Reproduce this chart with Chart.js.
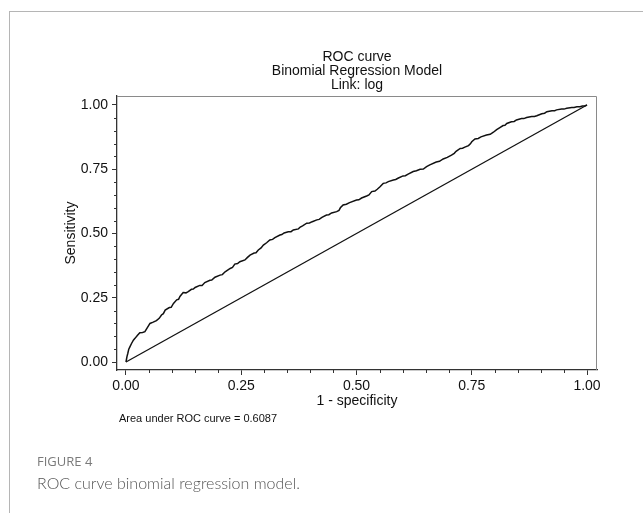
<!DOCTYPE html>
<html>
<head>
<meta charset="utf-8">
<script src="https://cdn.jsdelivr.net/npm/chart.js@4.4.1/dist/chart.umd.min.js"></script>
<style>
  html, body { margin: 0; padding: 0; background: #fff; }
  body { width: 643px; height: 513px; position: relative; overflow: hidden; }
  #frame { position: absolute; left: 9px; top: 11px; width: 700px; height: 600px;
           border-left: 1px solid #b5b5b5; border-top: 1px solid #b5b5b5; }
  #wrap { position: absolute; left: 0; top: 0; width: 643px; height: 513px; }
  #fig { position: absolute; left: 37px; top: 452px; font-family: "Open Sans", "Noto Sans", sans-serif;
         font-size: 13px; font-weight: 500; color: #7a7a7a; }
  #cap { position: absolute; left: 37px; top: 473px; font-family: Lato, "Open Sans", sans-serif;
         font-size: 16px; font-weight: 300; color: #555; }
</style>
</head>
<body>
<div id="frame"></div>
<div id="wrap"><canvas id="c" width="643" height="513"></canvas></div>
<div id="fig">FIGURE 4</div>
<div id="cap">ROC curve binomial regression model.</div>
<script>
// ---- data ----
const fpr = [0, 0.002, 0.004, 0.006, 0.0087, 0.012, 0.016, 0.0195, 0.025, 0.030, 0.036, 0.041, 0.046, 0.052,
  0.059, 0.066, 0.072, 0.077, 0.081, 0.085, 0.094, 0.098, 0.103, 0.110, 0.114, 0.117, 0.124, 0.130, 0.135,
  0.142, 0.146, 0.150, 0.160, 0.165, 0.171, 0.182, 0.186, 0.193, 0.204, 0.209, 0.215, 0.226, 0.231, 0.236,
  0.242, 0.247, 0.258, 0.263, 0.269, 0.278, 0.282, 0.287, 0.293, 0.298, 0.305, 0.312, 0.318, 0.323, 0.334,
  0.338, 0.343, 0.352, 0.358, 0.363, 0.374, 0.378, 0.383, 0.392, 0.398, 0.404, 0.414, 0.419, 0.425, 0.435,
  0.440, 0.446, 0.457, 0.462, 0.465, 0.471, 0.478, 0.485, 0.500, 0.505, 0.511, 0.522, 0.527, 0.533, 0.540,
  0.545, 0.551, 0.558, 0.564, 0.569, 0.580, 0.585, 0.591, 0.601, 0.606, 0.612, 0.623, 0.630, 0.638, 0.645,
  0.652, 0.659, 0.673, 0.680, 0.688, 0.697, 0.706, 0.712, 0.716, 0.725, 0.730, 0.735, 0.743, 0.747, 0.750,
  0.757, 0.764, 0.770, 0.782, 0.790, 0.797, 0.804, 0.811, 0.818, 0.822, 0.826, 0.836, 0.842, 0.847, 0.858,
  0.863, 0.869, 0.880, 0.886, 0.891, 0.902, 0.908, 0.913, 0.924, 0.930, 0.934, 0.945, 0.950, 0.956, 0.967,
  0.972, 0.978, 0.985, 0.990, 0.995, 1.0];
const tpr = [0, 0.020, 0.034, 0.050, 0.060, 0.072, 0.085, 0.092, 0.104, 0.114, 0.115, 0.118, 0.133, 0.150,
  0.155, 0.161, 0.170, 0.183, 0.188, 0.202, 0.212, 0.213, 0.228, 0.242, 0.244, 0.255, 0.270, 0.269, 0.274,
  0.283, 0.284, 0.290, 0.298, 0.298, 0.309, 0.318, 0.319, 0.330, 0.338, 0.340, 0.351, 0.364, 0.368, 0.381,
  0.383, 0.390, 0.397, 0.406, 0.416, 0.424, 0.425, 0.436, 0.444, 0.455, 0.464, 0.475, 0.477, 0.484, 0.494,
  0.496, 0.502, 0.507, 0.507, 0.514, 0.518, 0.525, 0.530, 0.540, 0.541, 0.546, 0.553, 0.555, 0.563, 0.572,
  0.573, 0.580, 0.585, 0.590, 0.600, 0.611, 0.614, 0.620, 0.630, 0.631, 0.638, 0.646, 0.650, 0.663, 0.665,
  0.672, 0.682, 0.695, 0.697, 0.702, 0.708, 0.710, 0.716, 0.724, 0.725, 0.731, 0.741, 0.744, 0.750, 0.751,
  0.760, 0.767, 0.778, 0.781, 0.790, 0.796, 0.805, 0.812, 0.820, 0.831, 0.832, 0.836, 0.842, 0.849, 0.857,
  0.868, 0.870, 0.876, 0.883, 0.886, 0.894, 0.904, 0.912, 0.920, 0.921, 0.928, 0.935, 0.936, 0.942, 0.947,
  0.947, 0.951, 0.955, 0.955, 0.958, 0.966, 0.968, 0.974, 0.978, 0.978, 0.981, 0.984, 0.984, 0.987, 0.990,
  0.990, 0.993, 0.993, 0.996, 0.996, 1.0];
const refX = [0, 1];
const refY = [0, 1];
const majorTicks = [0, 0.25, 0.5, 0.75, 1];
const minorTicks = [0.05, 0.1, 0.15, 0.2, 0.3, 0.35, 0.4, 0.45, 0.55, 0.6, 0.65, 0.7, 0.8, 0.85, 0.9, 0.95];
const titleLines = ['ROC curve', 'Binomial Regression Model', 'Link: log'];
const xTitle = '1 - specificity';
const yTitle = 'Sensitivity';
const aucNote = 'Area under ROC curve = 0.6087';

Chart.defaults.font.family = '"Liberation Sans", Arial, sans-serif';
Chart.defaults.color = '#111';

const extras = {
  id: 'extras',
  afterDraw(chart) {
    const {ctx, chartArea: a, scales: {x, y}} = chart;
    ctx.save();
    // top & right frame edges
    ctx.strokeStyle = '#8a8a8a';
    ctx.lineWidth = 1;
    ctx.beginPath();
    ctx.moveTo(a.left, a.top + 0.5);
    ctx.lineTo(a.right - 0.5, a.top + 0.5);
    ctx.lineTo(a.right - 0.5, a.bottom);
    ctx.stroke();
    // minor ticks
    ctx.strokeStyle = '#333';
    ctx.beginPath();
    minorTicks.forEach(v => {
      const py = Math.round(y.getPixelForValue(v)) + 0.5;
      ctx.moveTo(a.left - 3, py); ctx.lineTo(a.left, py);
      const px = Math.round(x.getPixelForValue(v)) + 0.5;
      ctx.moveTo(px, a.bottom); ctx.lineTo(px, a.bottom + 3);
    });
    ctx.stroke();
    // AUC note
    ctx.fillStyle = '#111';
    ctx.font = '11px "Liberation Sans", Arial, sans-serif';
    ctx.textBaseline = 'middle';
    ctx.textAlign = 'left';
    ctx.fillText(aucNote, a.left + 2, 419);
    ctx.restore();
  }
};

new Chart(document.getElementById('c'), {
  type: 'scatter',
  data: {
    datasets: [
      { data: fpr.map((v, i) => ({x: v, y: tpr[i]})), showLine: true, borderColor: '#111',
        borderWidth: 1.5, pointRadius: 0, tension: 0, fill: false },
      { data: refX.map((v, i) => ({x: v, y: refY[i]})), showLine: true, borderColor: '#111',
        borderWidth: 1.3, pointRadius: 0, tension: 0, fill: false }
    ]
  },
  options: {
    responsive: false,
    animation: false,
    devicePixelRatio: 1,
    layout: { padding: { left: 0, right: 46, top: 0, bottom: 0 } },
    plugins: {
      legend: { display: false },
      tooltip: { enabled: false },
      title: {
        display: true, text: titleLines, fullSize: false, color: '#111',
        font: { size: 14, weight: 'normal', lineHeight: 1.0 },
        padding: { top: 50, bottom: 4 }
      }
    },
    scales: {
      x: {
        type: 'linear', min: -0.01952, max: 1.02169,
        afterBuildTicks: s => { s.ticks = majorTicks.map(v => ({value: v})); },
        afterFit: s => { s.height = 143; },
        ticks: { callback: v => v.toFixed(2), font: { size: 14 }, padding: 3, maxRotation: 0, color: '#111' },
        grid: { drawOnChartArea: false, drawTicks: true, tickLength: 5, tickColor: '#333' },
        border: { display: true, color: '#333', width: 1.3 },
        title: { display: true, text: xTitle, font: { size: 14 }, color: '#111', padding: { top: 0, bottom: 103 } }
      },
      y: {
        type: 'linear', min: -0.0311, max: 1.035,
        afterBuildTicks: s => { s.ticks = majorTicks.map(v => ({value: v})); },
        afterFit: s => { s.width = 117; },
        ticks: { callback: v => v.toFixed(2), font: { size: 14 }, padding: 4, color: '#111' },
        grid: { drawOnChartArea: false, drawTicks: true, tickLength: 5, tickColor: '#333' },
        border: { display: true, color: '#333', width: 1.3 },
        title: { display: true, text: yTitle, font: { size: 14 }, color: '#111', padding: { top: 63, bottom: 0 } }
      }
    }
  },
  plugins: [extras]
});
</script>
</body>
</html>
